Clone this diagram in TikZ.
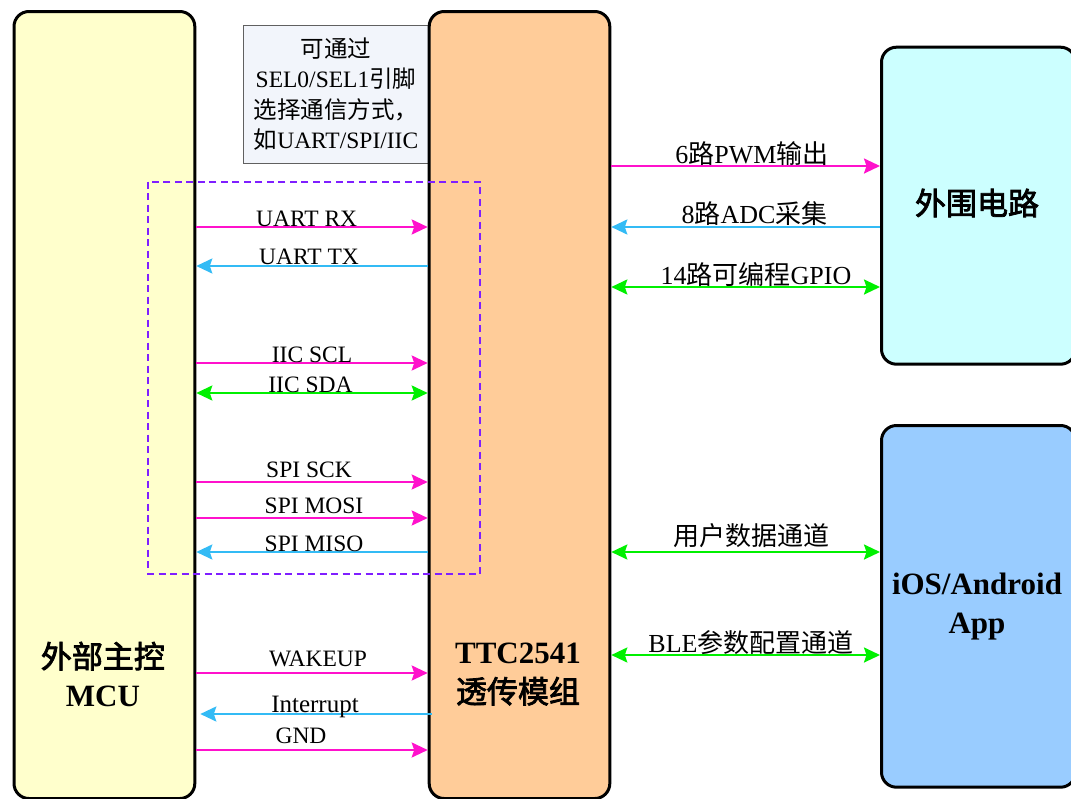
\documentclass[tikz,border=0pt]{standalone}
\usepackage{fontspec}
\setmainfont{Liberation Serif}
\newfontfamily\cjk[AutoFakeBold=2.5]{Noto Sans CJK SC}
\newcommand{\zh}[1]{{\cjk #1}}
\usetikzlibrary{arrows.meta}
\definecolor{mag}{HTML}{FF11CC}
\definecolor{cy}{HTML}{33BBF5}
\definecolor{gr}{HTML}{00F000}
\definecolor{pur}{HTML}{7F1FFF}
\definecolor{yelf}{HTML}{FFFFCC}
\definecolor{oraf}{HTML}{FFCC99}
\definecolor{cyf}{HTML}{CCFFFF}
\definecolor{blf}{HTML}{99CCFF}
\definecolor{notef}{HTML}{F2F5FB}
\definecolor{noteb}{HTML}{606060}
\begin{document}
\begin{tikzpicture}[x=1pt,y=1pt,
  box/.style={draw=black, line width=3pt, rounded corners=15pt, inner sep=0pt, anchor=north west},
  notebox/.style={draw=noteb, fill=notef, line width=1pt, inner sep=0pt, anchor=north west, align=center,
    font=\fontsize{23.5}{30.5}\selectfont},
  tip/.tip={Stealth[length=16pt,width=15pt,inset=2.5pt]},
  sigR/.style={draw=mag, line width=2.2pt, -{tip}},
  sigL/.style={draw=cy, line width=2.2pt, -{tip}},
  sigB/.style={draw=gr, line width=2.2pt, {tip}-{tip}},
  llbl/.style={anchor=base, inner sep=0pt, font=\fontsize{23.5}{28}\selectfont},
  rlbl/.style={anchor=base, inner sep=0pt, font=\fontsize{26}{30}\selectfont},
  big/.style={anchor=base, inner sep=0pt, font=\fontsize{31}{38}\selectfont\bfseries},
  bigc/.style={anchor=center, inner sep=0pt, font=\fontsize{31}{38}\selectfont\bfseries}
]
\useasboundingbox (0,0) rectangle (1071,-798);

% note
\node[notebox, minimum width=186, minimum height=138] (note) at (242.5,-24.5)
  {\zh{可通过}\\SEL0/SEL1\zh{引脚}\\\zh{选择通信方式，}\\\zh{如}UART/SPI/IIC};

% main boxes
\node[box, fill=yelf, minimum width=180.8, minimum height=787] (mcu) at (12.5,-10) {};
\node[box, fill=oraf, minimum width=180.6, minimum height=787] (ttc) at (427.7,-10) {};
\node[box, fill=cyf, minimum width=194, minimum height=317] (per) at (880,-45.7) {};
\node[box, fill=blf, minimum width=194, minimum height=361.7] (app) at (880,-424) {};

% box texts
\node[big] (mcu1) at (102.9,-668) {\zh{外部主控}};
\node[big] (mcu2) at (102.9,-706) {MCU};
\node[big] (ttc1) at (518,-663) {TTC2541};
\node[big] (ttc2) at (518,-703) {\zh{透传模组}};
\node[bigc] (per1) at (977,-203) {\zh{外围电路}};
\node[big] (app1) at (977,-594) {iOS/Android};
\node[big] (app2) at (977,-633) {App};

% dashed group
\draw[pur, line width=1.8pt, dash pattern=on 7pt off 4.5pt] (148.3,-181.7) rectangle (480,-574);

% left connectors
\draw[sigR] (mcu.east |- 0,-227) -- (ttc.west |- 0,-227);
\draw[sigL] (ttc.west |- 0,-266) -- (mcu.east |- 0,-266);
\draw[sigR] (mcu.east |- 0,-363) -- (ttc.west |- 0,-363);
\draw[sigB] (mcu.east |- 0,-393) -- (ttc.west |- 0,-393);
\draw[sigR] (mcu.east |- 0,-482) -- (ttc.west |- 0,-482);
\draw[sigR] (mcu.east |- 0,-518) -- (ttc.west |- 0,-518);
\draw[sigL] (ttc.west |- 0,-552) -- (mcu.east |- 0,-552);
\draw[sigR] (mcu.east |- 0,-673) -- (ttc.west |- 0,-673);
\draw[sigL, shorten <=-4pt, shorten >=4pt] (ttc.west |- 0,-714) -- (mcu.east |- 0,-714);
\draw[sigR] (mcu.east |- 0,-750) -- (ttc.west |- 0,-750);

% right connectors
\draw[sigR] (ttc.east |- 0,-166) -- (per.west |- 0,-166);
\draw[sigL] (per.west |- 0,-227) -- (ttc.east |- 0,-227);
\draw[sigB] (ttc.east |- 0,-287) -- (per.west |- 0,-287);
\draw[sigB] (ttc.east |- 0,-552) -- (app.west |- 0,-552);
\draw[sigB] (ttc.east |- 0,-655) -- (app.west |- 0,-655);

% left labels
\node[llbl] (lrx) at (306.7,-226) {UART RX};
\node[llbl] (ltx) at (309,-264) {UART TX};
\node[llbl] (lscl) at (312,-362.5) {IIC SCL};
\node[llbl] (lsda) at (310.5,-392) {IIC SDA};
\node[llbl] (lsck) at (309,-477) {SPI SCK};
\node[llbl] (lmosi) at (314,-513) {SPI MOSI};
\node[llbl] (lmiso) at (314,-551) {SPI MISO};
\node[llbl] (lwake) at (318,-666) {WAKEUP};
\node[llbl, font=\fontsize{25}{28}\selectfont] (lint) at (315,-712) {Interrupt};
\node[llbl] (lgnd) at (301,-743) {GND};

% right labels
\node[rlbl] (lpwm) at (752,-163.5) {6\zh{路}PWM\zh{输出}};
\node[rlbl] (ladc) at (754.5,-223.5) {8\zh{路}ADC\zh{采集}};
\node[rlbl] (lgpio) at (756,-284) {14\zh{路可编程}GPIO};
\node[rlbl] (luser) at (751.5,-545) {\zh{用户数据通道}};
\node[rlbl] (lble) at (751,-652) {BLE\zh{参数配置通道}};
\end{tikzpicture}
\end{document}
